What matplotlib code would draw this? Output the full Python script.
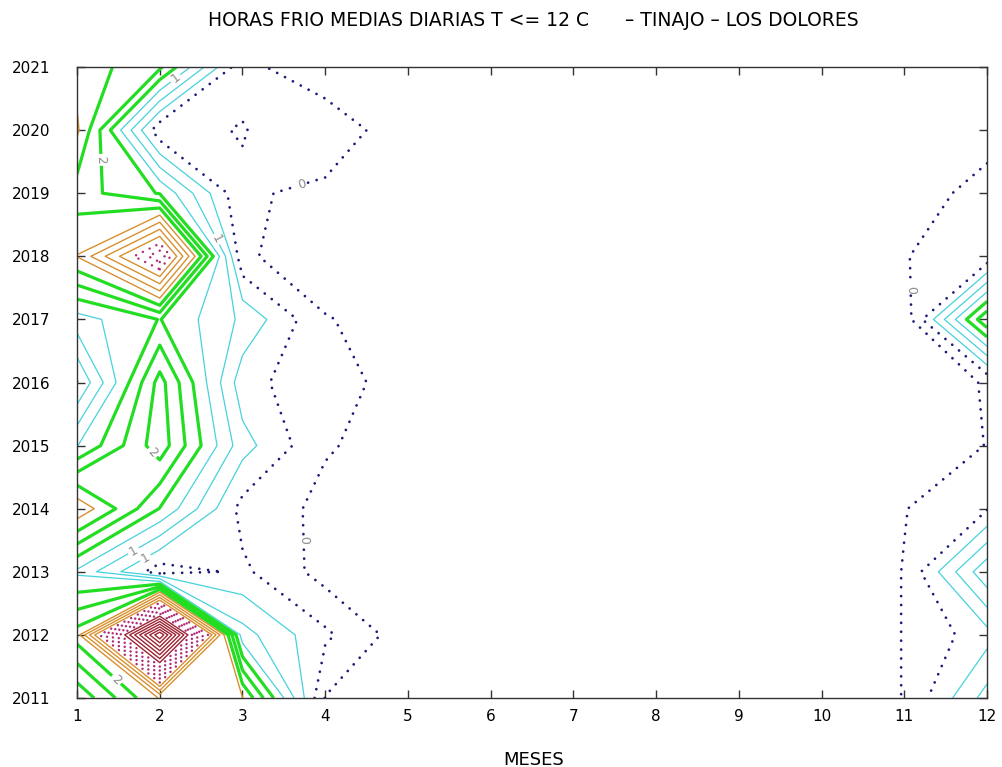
import numpy as np
import matplotlib
matplotlib.use("Agg")
import matplotlib.pyplot as plt

# media diaria de horas frio (T <= 12 C), rejilla meses x anos
months = list(range(1, 13))
years = list(range(2011, 2022))

h2011 = [1.30, 2.27, 2.26, 0.24, 0.00, 0, 0, 0, 0, 0, 0.26, 1.10]
h2012 = [2.12, 6.25, 1.10, 0.55, 0.10, 0, 0, 0, 0, 0, 0.26, 0.65]
h2013 = [1.20, 0.35, 0.55, 0.15, 0.00, 0, 0, 0, 0, 0, 0.26, 1.45]
h2014 = [2.45, 1.49, 0.41, 0.19, 0.00, 0, 0, 0, 0, 0, 0.24, 0.48]
h2015 = [1.24, 2.15, 0.85, 0.27, 0.15, 0, 0, 0, 0, 0, 0.00, 0.26]
h2016 = [0.49, 2.10, 0.60, 0.30, 0.20, 0, 0, 0, 0, 0, 0.00, 0.28]
h2017 = [1.14, 1.51, 0.95, 0.27, 0.10, 0, 0, 0, 0, 0, 0.09, 1.97]
h2018 = [2.26, 3.70, 0.30, 0.05, 0.00, 0, 0, 0, 0, 0, 0.245, 0.32]
h2019 = [1.87, 1.48, 0.28, 0.20, 0.00, 0, 0, 0, 0, 0, 0.00, 0.43]
h2020 = [2.30, 0.31, 0.24, 0.40, 0.10, 0, 0, 0, 0, 0, 0.00, 0.05]
h2021 = [2.15, 1.80, 0.31, 0.10, 0.00, 0, 0, 0, 0, 0, 0.00, 0.00]

horas = np.array([h2011, h2012, h2013, h2014, h2015, h2016,
                  h2017, h2018, h2019, h2020, h2021])

lev_dot = [0.25, 0.5]
lev_cyan = [0.75, 1.0, 1.25]
lev_green = [1.5, 1.75, 2.0]
lev_orange = [2.25, 2.5, 2.75, 3.0]
lev_magenta = [3.25, 3.5, 3.75, 4.0, 4.25]
lev_red = [4.5, 4.75, 5.0, 5.25, 5.5, 5.75, 6.0]

fig = plt.figure(figsize=(10.03, 7.67), dpi=100)
ax = fig.add_axes([0.0768, 0.0900, 0.9073, 0.8226])

cs_dot = ax.contour(months, years, horas, levels=lev_dot, colors="#1c1c78",
                    linewidths=2.0, linestyles=[(0, (0.01, 3.2))])
cs_dot.set_capstyle("round")
cs_cyan = ax.contour(months, years, horas, levels=lev_cyan, colors="#46d2dc",
                     linewidths=0.9)
cs_green = ax.contour(months, years, horas, levels=lev_green, colors="#22dd22",
                      linewidths=2.3)
ax.contour(months, years, horas, levels=lev_orange, colors="#d8902e",
           linewidths=1.0)
cs_mag = ax.contour(months, years, horas, levels=lev_magenta, colors="#b02a78",
                    linewidths=1.8, linestyles=[(0, (0.01, 3.0))])
cs_mag.set_capstyle("round")
ax.contour(months, years, horas, levels=lev_red, colors="#9c2434",
           linewidths=1.0)

fmt = lambda v: f"{v:.0f}"
lab = dict(fmt=fmt, fontsize=9, colors="#8c8c8c", inline=True, inline_spacing=2)
ax.clabel(cs_dot, manual=[(3.70, 2019.24), (3.70, 2013.50), (11.03, 2017.47)], **lab)
ax.clabel(cs_cyan, manual=[(2.18, 2020.84), (2.67, 2018.26), (1.66, 2013.38),
                           (1.86, 2013.14)], **lab)
ax.clabel(cs_green, manual=[(1.31, 2019.53), (1.73, 2014.66), (1.56, 2011.41)], **lab)

ax.set_xlim(1, 12)
ax.set_ylim(2011, 2021)
ax.set_xticks(months)
ax.set_yticks(years)
ax.tick_params(axis="both", direction="in", top=True, right=True, length=6,
               width=1.0, color="#333333", labelsize=11)
ax.tick_params(axis="x", pad=8)
ax.tick_params(axis="y", pad=19)
for s in ax.spines.values():
    s.set_color("#333333")
    s.set_linewidth(1.0)

fig.text(0.532, 1 - 20 / 767,
         "HORAS FRIO MEDIAS DIARIAS T <= 12 C      \u2013 TINAJO \u2013 LOS DOLORES",
         ha="center", va="center", fontsize=13.5)
fig.text(0.532, 1 - 760 / 767, "MESES", ha="center", va="center", fontsize=13)

fig.savefig("out.png", dpi=100)
